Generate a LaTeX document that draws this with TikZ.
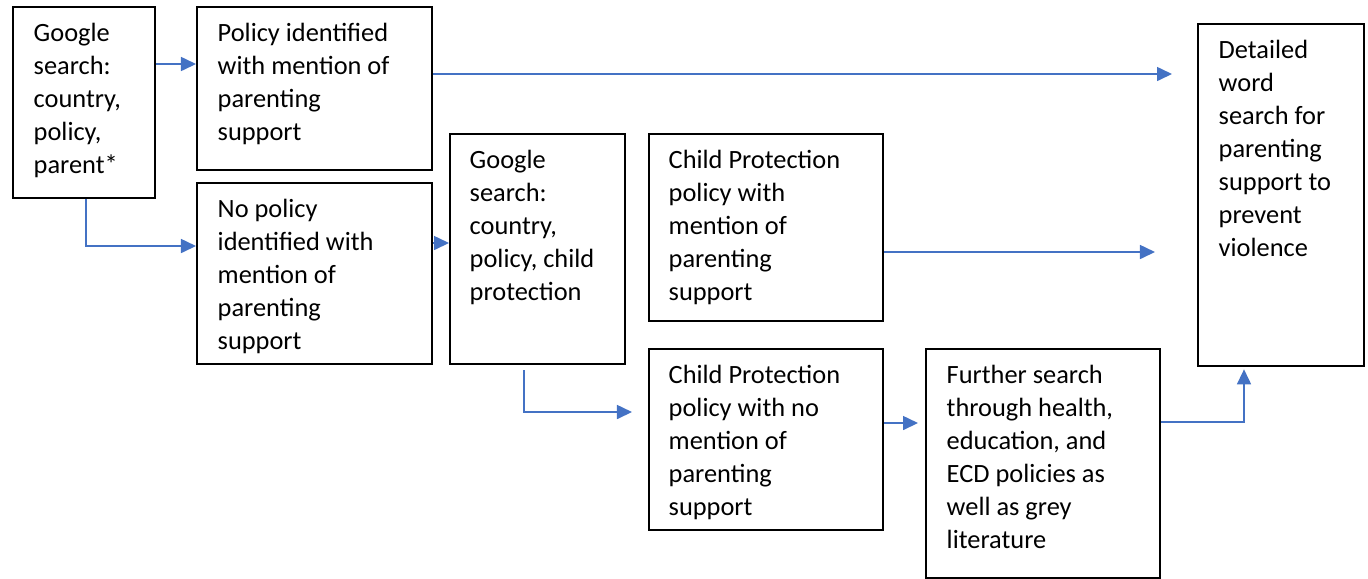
\documentclass[tikz,border=0pt]{standalone}
\usepackage{fontspec}
\setmainfont{Carlito}
\usetikzlibrary{arrows.meta,positioning}
\definecolor{flowblue}{HTML}{4472C4}

\tikzset{
  box/.style={draw=black, line width=0.6pt, anchor=north west, inner sep=0pt},
  txt/.style={align=left, inner sep=0pt, font=\fontsize{7.5}{9.4}\selectfont},
  flow/.style={draw=flowblue, line width=0.45pt,
    -{Triangle[length=0.15cm,width=0.14cm]}}
}

\begin{document}
\begin{tikzpicture}[x=0.01cm, y=-0.01cm]
  \useasboundingbox (0,0) rectangle (1368,578);

  % --- caixas ---
  \node[box, minimum width=1.42cm, minimum height=1.91cm] (b1) at (12,6) {};
  \node[box, minimum width=2.35cm, minimum height=1.63cm] (b2) at (196,6) {};
  \node[box, minimum width=2.35cm, minimum height=1.81cm] (b3) at (196,182) {};
  \node[box, minimum width=1.75cm, minimum height=2.30cm] (b4) at (449,133) {};
  \node[box, minimum width=2.34cm, minimum height=1.87cm] (b5) at (648,133) {};
  \node[box, minimum width=2.34cm, minimum height=1.81cm] (b6) at (648,348) {};
  \node[box, minimum width=2.34cm, minimum height=2.29cm] (b7) at (925,348) {};
  \node[box, minimum width=1.66cm, minimum height=3.42cm] (b8) at (1197,23) {};

  % textos (alinhados no topo de cada caixa)
  \node[txt, below right=0.16cm and 0.21cm of b1.north west] (t1)
    {Google\\search:\\country,\\policy,\\parent*};
  \node[txt, below right=0.16cm and 0.21cm of b2.north west] (t2)
    {Policy identified\\with mention of\\parenting\\support};
  \node[txt, below right=0.16cm and 0.21cm of b3.north west] (t3)
    {No policy\\identified with\\mention of\\parenting\\support};
  \node[txt, below right=0.16cm and 0.20cm of b4.north west] (t4)
    {Google\\search:\\country,\\policy, child\\protection};
  \node[txt, below right=0.16cm and 0.20cm of b5.north west] (t5)
    {Child Protection\\policy with\\mention of\\parenting\\support};
  \node[txt, below right=0.16cm and 0.20cm of b6.north west] (t6)
    {Child Protection\\policy with no\\mention of\\parenting\\support};
  \node[txt, below right=0.16cm and 0.21cm of b7.north west] (t7)
    {Further search\\through health,\\education, and\\ECD policies as\\well as grey\\literature};
  \node[txt, below right=0.16cm and 0.21cm of b8.north west] (t8)
    {Detailed\\word\\search for\\parenting\\support to\\prevent\\violence};

  % --- setas ---
  \draw[flow] (b1.east |- 0,64) -- (b2.west |- 0,64);
  \draw[flow] (b1.south -| 86,0) |- (b3.west |- 0,246);
  \draw[flow, shorten >=0.25cm] (b2.east |- 0,74) -- (b8.west |- 0,74);
  \draw[flow] (b3.east |- 0,243) -- (b4.west |- 0,243);
  \draw[flow, shorten <=0.05cm, shorten >=0.16cm] (b4.south -| 524,0) |- (b6.west |- 0,412);
  \draw[flow, shorten >=0.42cm] (b5.east |- 0,252) -- (b8.west |- 0,252);
  \draw[flow, shorten >=0.07cm] (b6.east |- 0,423) -- (b7.west |- 0,423);
  \draw[flow, shorten >=0.02cm] (b7.east |- 0,422) -| (b8.south -| 1244,0);
\end{tikzpicture}
\end{document}
